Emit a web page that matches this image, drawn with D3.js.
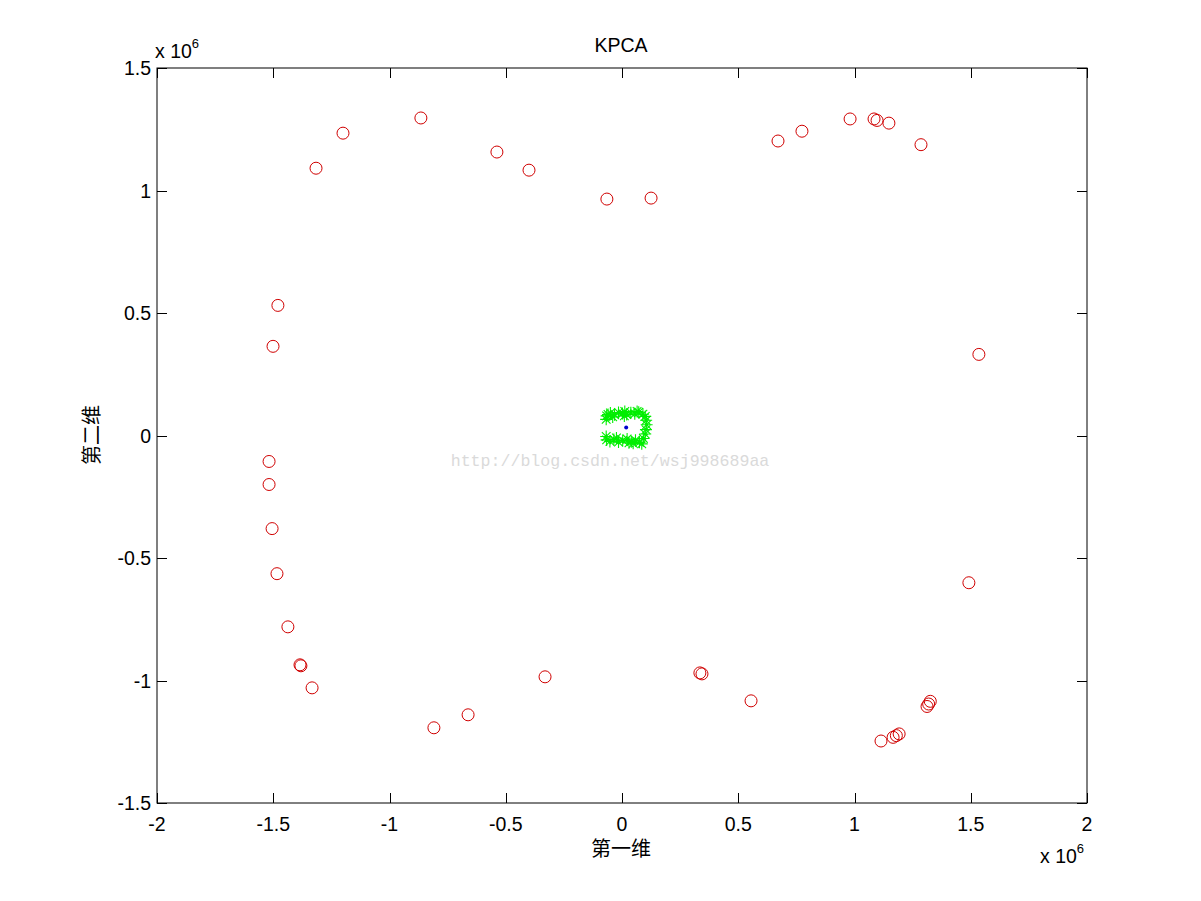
<!DOCTYPE html>
<html><head><meta charset="utf-8">
<script src="https://cdn.jsdelivr.net/npm/d3@7"></script>
<style>body{margin:0;background:#fff;} svg{display:block;}</style>
</head><body>
<svg id="c" width="1201" height="901"></svg>
<script>
// Red circles (values in units of 1e6)
const redX = [-1.200,-1.316,-0.865,-0.538,-0.400,-0.065,0.125,0.671,0.774,0.981,1.084,1.097,1.148,1.286,
  -1.480,-1.501,1.535,-1.518,-1.518,-1.505,-1.484,-1.437,-1.385,-1.381,-1.333,1.492,-0.809,-0.662,-0.331,
  0.335,0.344,0.555,1.114,1.166,1.180,1.192,1.312,1.319,1.326];
const redY = [1.234,1.091,1.296,1.157,1.083,0.965,0.969,1.202,1.242,1.292,1.292,1.286,1.275,1.187,
  0.531,0.364,0.331,-0.106,-0.200,-0.380,-0.564,-0.781,-0.936,-0.940,-1.030,-0.601,-1.193,-1.140,-0.985,
  -0.969,-0.973,-1.083,-1.247,-1.232,-1.225,-1.218,-1.106,-1.096,-1.085];
// Green asterisks
const greenX = [-0.066,-0.050,-0.032,-0.015,0.002,0.020,0.038,0.055,0.072,0.090,0.100,
  0.104,0.106,0.103,0.100,
  -0.066,-0.052,-0.035,-0.015,0.003,0.022,0.040,0.058,0.075,0.092,
  -0.068,-0.068,-0.060,-0.040,0.010,0.030,0.065,0.085,-0.024,0.048,0.012];
const greenY = [0.080,0.092,0.085,0.094,0.090,0.086,0.093,0.089,0.095,0.087,0.078,
  0.062,0.044,0.024,0.006,
  -0.018,-0.024,-0.016,-0.027,-0.020,-0.014,-0.025,-0.019,-0.028,-0.012,
  0.066,-0.004,0.086,0.076,0.080,-0.030,0.098,-0.034,-0.010,-0.032,0.098];
// Blue point
const blueX = [0.018];
const blueY = [0.033];
const xTicks = [-2,-1.5,-1,-0.5,0,0.5,1,1.5,2];
const yTicks = [-1.5,-1,-0.5,0,0.5,1,1.5];

const svg = d3.select('#c');
const L=157, R=1087, T=68, B=803;
const x = d3.scaleLinear().domain([-2,2]).range([L,R]);
const y = d3.scaleLinear().domain([-1.5,1.5]).range([B,T]);
const font = "'Liberation Sans', Arial, sans-serif";
const fs = 19.5;

// watermark
svg.append('text').attr('x',610).attr('y',466).attr('text-anchor','middle')
  .attr('font-family',"'Liberation Mono','DejaVu Sans Mono',monospace").attr('font-size',16.6)
  .attr('fill','#dadada').text('http://blog.csdn.net/wsj998689aa');

// box
svg.append('rect').attr('x',L).attr('y',T).attr('width',R-L).attr('height',B-T)
  .attr('fill','none').attr('stroke','#000').attr('stroke-width',1);

const tl=10;
const g = svg.append('g').attr('stroke','#000').attr('stroke-width',1);
xTicks.forEach(t=>{
  const px=Math.round(x(t))+0.5;
  g.append('line').attr('x1',px).attr('x2',px).attr('y1',B).attr('y2',B-tl);
  g.append('line').attr('x1',px).attr('x2',px).attr('y1',T).attr('y2',T+tl);
});
yTicks.forEach(t=>{
  const py=Math.round(y(t))+0.5;
  g.append('line').attr('x1',L).attr('x2',L+tl).attr('y1',py).attr('y2',py);
  g.append('line').attr('x1',R).attr('x2',R-tl).attr('y1',py).attr('y2',py);
});
const fmt = d=>String(d);
svg.append('g').selectAll('text').data(xTicks).join('text')
  .attr('x',d=>x(d)).attr('y',B+28).attr('text-anchor','middle')
  .attr('font-family',font).attr('font-size',fs).text(fmt);
svg.append('g').selectAll('text').data(yTicks).join('text')
  .attr('x',L-6).attr('y',d=>y(d)+7).attr('text-anchor','end')
  .attr('font-family',font).attr('font-size',fs).text(fmt);

// exponent labels
function expLabel(xp,yp){
  const t=svg.append('text').attr('x',xp).attr('y',yp).attr('font-family',font).attr('font-size',fs);
  t.append('tspan').text('x 10');
  t.append('tspan').attr('dy',-10).attr('font-size',13).text('6');
}
expLabel(155,58);
expLabel(1040,863);

// title and labels
svg.append('text').attr('x',621).attr('y',52).attr('text-anchor','middle')
  .attr('font-family',font).attr('font-size',fs).text('KPCA');
svg.append('text').attr('x',621).attr('y',856).attr('text-anchor','middle')
  .attr('font-family',"'Noto Sans CJK SC',sans-serif").attr('font-size',20).text('第一维');
svg.append('text').attr('transform','translate(99,435) rotate(-90)').attr('text-anchor','middle')
  .attr('font-family',"'Noto Sans CJK SC',sans-serif").attr('font-size',20).text('第二维');

// red circles
svg.append('g').selectAll('circle').data(redX.map((d,i)=>[d,redY[i]])).join('circle')
  .attr('cx',d=>x(d[0])).attr('cy',d=>y(d[1])).attr('r',6)
  .attr('fill','none').attr('stroke','#d00000').attr('stroke-width',1);

// green asterisks
const s=6;
const gg = svg.append('g').attr('stroke','#00ee00').attr('stroke-width',1.1);
greenX.forEach((gx,i)=>{
  const cx=x(gx), cy=y(greenY[i]);
  const d=`M${cx-s},${cy}L${cx+s},${cy}M${cx},${cy-s}L${cx},${cy+s}M${cx-s*0.72},${cy-s*0.72}L${cx+s*0.72},${cy+s*0.72}M${cx-s*0.72},${cy+s*0.72}L${cx+s*0.72},${cy-s*0.72}`;
  gg.append('path').attr('d',d);
});
// blue point
svg.append('g').selectAll('circle').data(blueX.map((d,i)=>[d,blueY[i]])).join('circle')
  .attr('cx',d=>x(d[0])).attr('cy',d=>y(d[1])).attr('r',2).attr('fill','#0000cc');
</script>
</body></html>
